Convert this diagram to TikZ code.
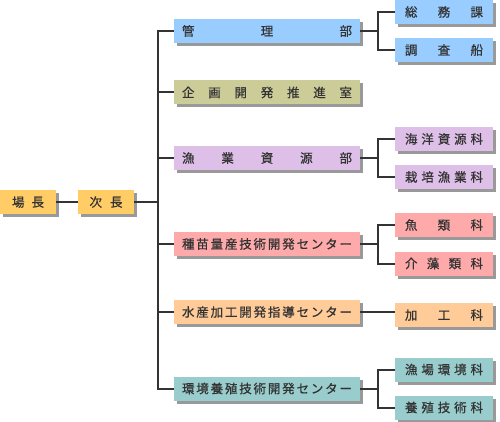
\documentclass[tikz,border=0pt]{standalone}
\usepackage{fontspec}
\newfontfamily\jp{Noto Sans CJK JP}[FakeBold=0.7]
\usetikzlibrary{shadows}
\definecolor{cOrg}{HTML}{FFCC66}
\definecolor{cBlue}{HTML}{99CCFF}
\definecolor{cOlive}{HTML}{CCCC99}
\definecolor{cLav}{HTML}{DDBFE8}
\definecolor{cPink}{HTML}{FFAAAA}
\definecolor{cPeach}{HTML}{FFCC99}
\definecolor{cTeal}{HTML}{99CCCC}
\definecolor{cShadow}{HTML}{999999}
\definecolor{cLine}{HTML}{333333}
\definecolor{cText}{HTML}{333333}
\newcommand\spr[2]{\makebox[#1][s]{#2}}
\tikzset{
  box/.style={rectangle, inner sep=0pt, minimum height=24pt, text=cText,
    font=\jp\fontsize{12.5}{13}\selectfont, text height=11pt, text depth=1.5pt,
    drop shadow={shadow xshift=3pt, shadow yshift=-3pt, fill=cShadow, opacity=1}},
  topbox/.style={box, minimum width=56pt},
  midbox/.style={box, minimum width=186pt},
  subbox/.style={box, minimum width=98pt},
  conn/.style={draw=cLine, line width=2pt}
}
\begin{document}
\begin{tikzpicture}[x=1pt,y=-1pt]
\useasboundingbox (0,0) rectangle (500,422);
% top level
\node[topbox, fill=cOrg] (jocho) at (28,202) {\spr{32pt}{場\hfil 長}};
\node[topbox, fill=cOrg] (jicho) at (106,202) {\spr{33pt}{次\hfil 長}};
% middle column
\node[midbox, fill=cBlue] (kanri) at (267,31) {\spr{170pt}{管\hfil 理\hfil 部}};
\node[midbox, fill=cOlive] (kikaku) at (267,92.5) {\spr{170pt}{企\hfil 画\hfil 開\hfil 発\hfil 推\hfil 進\hfil 室}};
\node[midbox, fill=cLav] (gyogyo) at (267,158) {\spr{170pt}{漁\hfil 業\hfil 資\hfil 源\hfil 部}};
\node[midbox, fill=cPink] (shubyo) at (267,244) {\spr{170pt}{種\hfil 苗\hfil 量\hfil 産\hfil 技\hfil 術\hfil 開\hfil 発\hfil セ\hfil ン\hfil タ\hfil ー}};
\node[midbox, fill=cPeach] (kako) at (267,312) {\spr{170pt}{水\hfil 産\hfil 加\hfil 工\hfil 開\hfil 発\hfil 指\hfil 導\hfil セ\hfil ン\hfil タ\hfil ー}};
\node[midbox, fill=cTeal] (kankyo) at (267,388.5) {\spr{170pt}{環\hfil 境\hfil 養\hfil 殖\hfil 技\hfil 術\hfil 開\hfil 発\hfil セ\hfil ン\hfil タ\hfil ー}};
% right column
\node[subbox, fill=cBlue] (somu) at (444,12) {\spr{78pt}{総\hfil 務\hfil 課}};
\node[subbox, fill=cBlue] (chosa) at (444,50) {\spr{78pt}{調\hfil 査\hfil 船}};
\node[subbox, fill=cLav] (kaiyo) at (444,139) {\spr{78pt}{海\hfil 洋\hfil 資\hfil 源\hfil 科}};
\node[subbox, fill=cLav] (saibai) at (444,177) {\spr{78pt}{栽\hfil 培\hfil 漁\hfil 業\hfil 科}};
\node[subbox, fill=cPink] (gyorui) at (444,225) {\spr{78pt}{魚\hfil 類\hfil 科}};
\node[subbox, fill=cPink] (kaiso) at (444,263.5) {\spr{78pt}{介\hfil 藻\hfil 類\hfil 科}};
\node[subbox, fill=cPeach] (kakoka) at (444,315) {\spr{78pt}{加\hfil 工\hfil 科}};
\node[subbox, fill=cTeal] (gyojo) at (444,369.5) {\spr{78pt}{漁\hfil 場\hfil 環\hfil 境\hfil 科}};
\node[subbox, fill=cTeal] (yoshoku) at (444,407.5) {\spr{78pt}{養\hfil 殖\hfil 技\hfil 術\hfil 科}};
% connectors
\coordinate (tx) at (158,0);
\coordinate (bx) at (378,0);
\draw[conn] (jocho.east) -- (jicho.west);
\draw[conn] (jicho.east) -- (jicho.east -| tx);
\draw[conn] (kanri.west) -- (kanri.west -| tx) -- (kankyo.west -| tx) -- (kankyo.west);
\draw[conn] (kikaku.west) -- (kikaku.west -| tx);
\draw[conn] (gyogyo.west) -- (gyogyo.west -| tx);
\draw[conn] (shubyo.west) -- (shubyo.west -| tx);
\draw[conn] (kako.west) -- (kako.west -| tx);
% branches
\draw[conn] (kanri.east) -- (kanri.east -| bx);
\draw[conn] (somu.west) -- (somu.west -| bx) -- (chosa.west -| bx) -- (chosa.west);
\draw[conn] (gyogyo.east) -- (gyogyo.east -| bx);
\draw[conn] (kaiyo.west) -- (kaiyo.west -| bx) -- (saibai.west -| bx) -- (saibai.west);
\draw[conn] (shubyo.east) -- (shubyo.east -| bx);
\draw[conn] (gyorui.west) -- (gyorui.west -| bx) -- (kaiso.west -| bx) -- (kaiso.west);
\draw[conn] (kako.east) -- (kako.east -| kakoka.west);
\draw[conn] (kankyo.east) -- (kankyo.east -| bx);
\draw[conn] (gyojo.west) -- (gyojo.west -| bx) -- (yoshoku.west -| bx) -- (yoshoku.west);
\end{tikzpicture}
\end{document}
